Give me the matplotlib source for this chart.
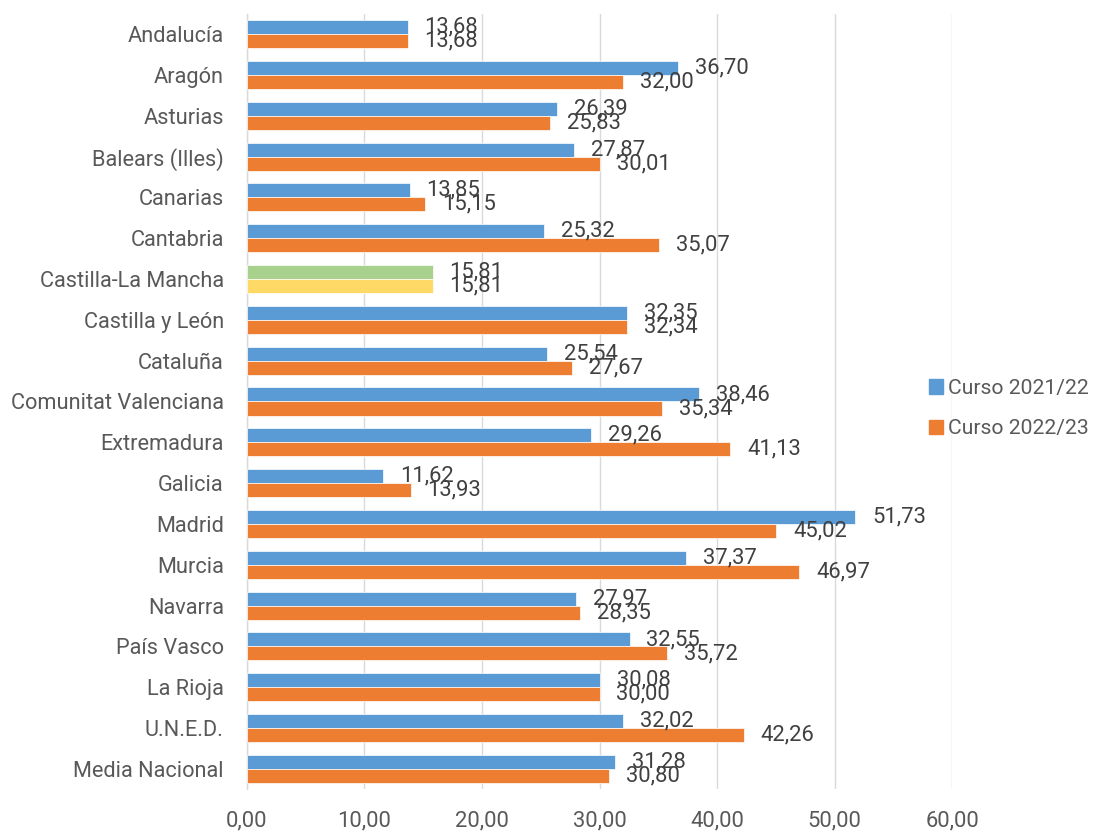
import numpy as np
import matplotlib
matplotlib.use('Agg')
import matplotlib.pyplot as plt
from matplotlib.patches import Patch

plt.rcParams['font.family'] = ['Roboto', 'DejaVu Sans']

# Datos por comunidad
comunidades = ['Andalucía', 'Aragón', 'Asturias', 'Balears (Illes)', 'Canarias',
               'Cantabria', 'Castilla-La Mancha', 'Castilla y León', 'Cataluña',
               'Comunitat Valenciana', 'Extremadura', 'Galicia', 'Madrid', 'Murcia',
               'Navarra', 'País Vasco', 'La Rioja', 'U.N.E.D.', 'Media Nacional']
curso_2122 = [13.68, 36.70, 26.39, 27.87, 13.85, 25.32, 15.81, 32.35, 25.54,
              38.46, 29.26, 11.62, 51.73, 37.37, 27.97, 32.55, 30.08, 32.02, 31.28]
curso_2223 = [13.68, 32.00, 25.83, 30.01, 15.15, 35.07, 15.81, 32.34, 27.67,
              35.34, 41.13, 13.93, 45.02, 46.97, 28.35, 35.72, 30.00, 42.26, 30.80]
series_labels = ['Curso 2021/22', 'Curso 2022/23']
x_ticks = [0, 10, 20, 30, 40, 50, 60]

blue = '#5B9BD5'
orange = '#ED7D31'
grid_col = '#D9D9D9'
txt_col = '#595959'
lbl_col = '#404040'

fig = plt.figure(figsize=(10.93, 8.31), dpi=100)
ax = fig.add_axes([0.2257, 0.0501, 0.8713 - 0.2257, 0.9836 - 0.0501])

n = len(comunidades)
y = np.arange(n)
h = 0.343

col1 = [blue] * n
col2 = [orange] * n
# Castilla-La Mancha con colores distintos
i_clm = comunidades.index('Castilla-La Mancha')
col1[i_clm] = '#A9D18E'
col2[i_clm] = '#FFD966'

b1 = ax.barh(y - h / 2, curso_2122, height=h, color=col1, edgecolor='white', linewidth=0.5, zorder=3)
b2 = ax.barh(y + h / 2, curso_2223, height=h, color=col2, edgecolor='white', linewidth=0.5, zorder=3)

def fmt(v):
    return f'{v:.2f}'.replace('.', ',')

for bars, vals in [(b1, curso_2122), (b2, curso_2223)]:
    for bar, v in zip(bars, vals):
        ax.annotate(fmt(v), (v, bar.get_y() + bar.get_height() / 2),
                    xytext=(12.2, 0), textcoords='offset points',
                    ha='left', va='center', fontsize=15.8, color=lbl_col, zorder=4)

ax.set_xlim(0, 60)
ax.set_ylim(n - 0.5, -0.5)
ax.set_xticks(x_ticks)
ax.set_xticklabels([fmt(t) for t in x_ticks])
ax.set_yticks(y)
ax.set_yticklabels(comunidades)
ax.tick_params(axis='x', length=0, pad=15, labelsize=15.8, labelcolor=txt_col)
ax.tick_params(axis='y', length=0, pad=16.5, labelsize=15.7, labelcolor=txt_col)

ax.grid(axis='x', color=grid_col, linewidth=1.0, zorder=0)
for s in ['top', 'right', 'bottom']:
    ax.spines[s].set_visible(False)
ax.spines['left'].set_color(grid_col)
ax.spines['left'].set_linewidth(1.0)

handles = [Patch(color=blue), Patch(color=orange)]
fig.legend(handles, series_labels, loc='center left',
           bbox_to_anchor=(929 / 1093, 1 - 408.5 / 831),
           frameon=False, fontsize=15.2, labelcolor=txt_col,
           handlelength=0.65, handleheight=0.65, handletextpad=0.25,
           labelspacing=1.0, borderpad=0, borderaxespad=0)

fig.savefig('out.png', dpi=100)
